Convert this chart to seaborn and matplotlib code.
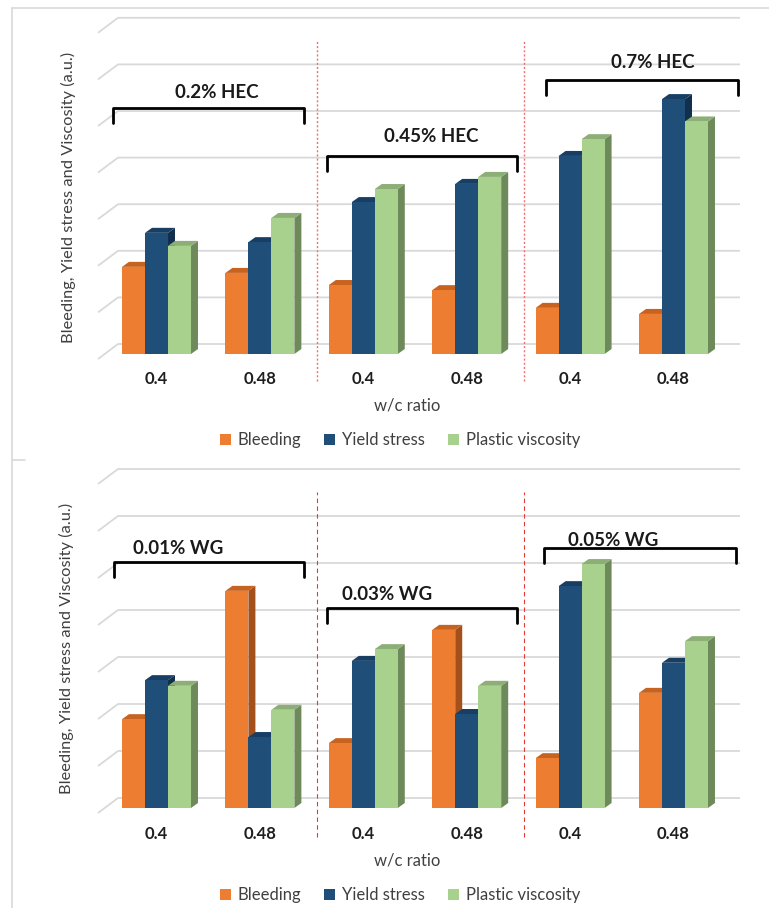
import numpy as np
import pandas as pd
import matplotlib
matplotlib.use("Agg")
import matplotlib.pyplot as plt
import seaborn as sns
from matplotlib.patches import Polygon
from matplotlib.lines import Line2D

# ---------------- data ----------------
wc_ratio = ["0.4", "0.48", "0.4", "0.48", "0.4", "0.48"]
series = ["Bleeding", "Yield stress", "Plastic viscosity"]

hec_groups = ["0.2% HEC", "0.45% HEC", "0.7% HEC"]
hec_bleeding = [1.87, 1.74, 1.48, 1.37, 0.99, 0.86]
hec_yield = [2.60, 2.40, 3.26, 3.65, 4.25, 5.47]
hec_plastic = [2.32, 2.92, 3.54, 3.80, 4.61, 4.99]

wg_groups = ["0.01% WG", "0.03% WG", "0.05% WG"]
wg_bleeding = [1.89, 4.62, 1.38, 3.79, 1.06, 2.45]
wg_yield = [2.72, 1.51, 3.13, 2.00, 4.72, 3.09]
wg_plastic = [2.60, 2.09, 3.38, 2.60, 5.19, 3.55]

ylabel = "Bleeding, Yield stress and Viscosity (a.u.)"
xlabel = "w/c ratio"

# ---------------- style ----------------
front_cols = ["#ED7D31", "#1F4E79", "#A9D18E"]
top_cols = ["#C8621F", "#183E63", "#8DAE76"]
side_cols = ["#A4501A", "#132F4E", "#6E8A5A"]
grid_col = "#D9D9D9"

W, H = 769, 908
sns.set_style("white")
plt.rcParams["font.family"] = ["Lato", "DejaVu Sans"]
fig = plt.figure(figsize=(W / 100, H / 100), dpi=100)

XC0, XSTEP = 156.5, 103.4   # px of first category centre, px per category
AL, AR = 90, 750            # axes horizontal extent in px


def fx(xpx):
    return xpx / W


def fy(ypx):
    return 1 - ypx / H


def make_panel(b, y, p, groups, base_px, unit_px, top_px, bot_px,
               div_style, texts, brackets, ylab_pos, xlab_y, leg_y):
    ax = fig.add_axes([fx(AL), fy(bot_px), (AR - AL) / W, (bot_px - top_px) / H])
    rows = []
    for i in range(len(wc_ratio)):
        for s, vals in zip(series, [b, y, p]):
            rows.append({"pos": i, "series": s, "value": vals[i]})
    df = pd.DataFrame(rows)
    sns.barplot(data=df, x="pos", y="value", hue="series", hue_order=series,
                palette=front_cols, width=0.667, gap=0, saturation=1,
                errorbar=None, linewidth=0, ax=ax)
    ax.set_xlim((AL - XC0) / XSTEP, (AR - XC0) / XSTEP)
    ax.set_ylim((base_px - bot_px) / unit_px, (base_px - top_px) / unit_px)
    px_x, px_y = 1 / XSTEP, 1 / unit_px

    # back wall gridlines + side-wall diagonals
    xf = (98 - XC0) / XSTEP
    xb = (118 - XC0) / XSTEP
    xr = (740 - XC0) / XSTEP
    for v in range(8):
        ax.plot([xf, xb, xr], [v - 5 * px_y, v + 10 * px_y, v + 10 * px_y],
                color=grid_col, lw=1.3, zorder=0.5, clip_on=False,
                solid_capstyle="butt")

    # 3D faces on the seaborn bars
    bars = sorted([pt for pt in ax.patches if pt.get_height() > 0],
                  key=lambda r: r.get_x())
    dx, dy = 7 * px_x, 5 * px_y
    for k, r in enumerate(bars):
        fc = r.get_facecolor()
        ci = int(np.argmin([np.sum(np.abs(np.array(matplotlib.colors.to_rgba(c)) - np.array(fc)))
                            for c in front_cols]))
        x0, w, h = r.get_x(), r.get_width(), r.get_height()
        z = 2 + k * 0.01
        ax.add_patch(Polygon([(x0 + w, 0), (x0 + w + dx, dy), (x0 + w + dx, h + dy), (x0 + w, h)],
                             closed=True, facecolor=side_cols[ci], edgecolor="none", zorder=z))
        ax.add_patch(Polygon([(x0, h), (x0 + w, h), (x0 + w + dx, h + dy), (x0 + dx, h + dy)],
                             closed=True, facecolor=top_cols[ci], edgecolor="none", zorder=z))
        r.set_zorder(z + 0.005)

    # dividers between concentration groups
    for xd in [1.5, 3.5]:
        ax.plot([xd + 5.5 * px_x] * 2,
                [(base_px - div_style["y1"]) / unit_px, (base_px - div_style["y0"]) / unit_px],
                color=div_style["color"], lw=div_style["lw"], dashes=div_style["dashes"],
                zorder=1, clip_on=False)

    sns.despine(ax=ax, left=True, bottom=True, top=True, right=True)
    ax.set_yticks([])
    ax.set_xticks(range(len(wc_ratio)))
    ax.set_xticklabels(wc_ratio, fontsize=12, fontweight="bold", color="#1f1f1f")
    ax.tick_params(axis="x", length=0, pad=2.5)
    ax.set_xlabel("")
    ax.set_ylabel("")
    ax.patch.set_alpha(0)

    sns.move_legend(ax, "center", bbox_to_anchor=(fx(400), fy(leg_y)),
                    bbox_transform=fig.transFigure, ncol=3, frameon=False, title=None,
                    handlelength=0.65, handleheight=0.65, handletextpad=0.4,
                    columnspacing=1.4, fontsize=12)
    for t in ax.get_legend().get_texts():
        t.set_color("#404040")

    fig.text(fx(ylab_pos[0]), fy(ylab_pos[1]), ylabel, rotation=90, ha="center",
             va="center", fontsize=11.8, color="#404040")
    fig.text(fx(407), fy(xlab_y), xlabel, ha="center", va="center",
             fontsize=12, color="#404040")

    for label, (tx, ty) in zip(groups, texts):
        fig.text(fx(tx), fy(ty), label, ha="center", va="center", fontsize=13.5,
                 fontweight="bold", color="#1a1a1a")
    for (x0p, x1p, yp) in brackets:
        fig.add_artist(Line2D([fx(x0p), fx(x0p), fx(x1p), fx(x1p)],
                              [fy(yp + 15), fy(yp), fy(yp), fy(yp + 15)],
                              color="black", lw=2.0, solid_joinstyle="round"))
    return ax


make_panel(hec_bleeding, hec_yield, hec_plastic, hec_groups,
           base_px=354, unit_px=46.6, top_px=10, bot_px=368,
           div_style={"color": "#F07070", "lw": 1.0, "dashes": (1.5, 1.5), "y0": 41, "y1": 381},
           texts=[(217, 93), (431, 137), (653, 63)],
           brackets=[(113, 304, 108), (327, 517, 156), (546, 738, 80)],
           ylab_pos=(68, 197), xlab_y=405, leg_y=440)

make_panel(wg_bleeding, wg_yield, wg_plastic, wg_groups,
           base_px=808, unit_px=47.0, top_px=462, bot_px=823,
           div_style={"color": "#E53935", "lw": 0.8, "dashes": (4, 3), "y0": 492, "y1": 837},
           texts=[(178, 549), (387, 595), (613, 541)],
           brackets=[(114, 304, 562), (327, 517, 608), (544, 736, 548)],
           ylab_pos=(66, 648), xlab_y=860, leg_y=895)

# panel frame lines
fig.add_artist(Line2D([fx(12), fx(12)], [fy(8), fy(908)], color=grid_col, lw=1.2))
fig.add_artist(Line2D([fx(12), fx(769)], [fy(8), fy(8)], color=grid_col, lw=1.2))
fig.add_artist(Line2D([fx(12), fx(25)], [fy(460), fy(460)], color=grid_col, lw=1.2))

fig.savefig("out.png", dpi=100, facecolor="white")
